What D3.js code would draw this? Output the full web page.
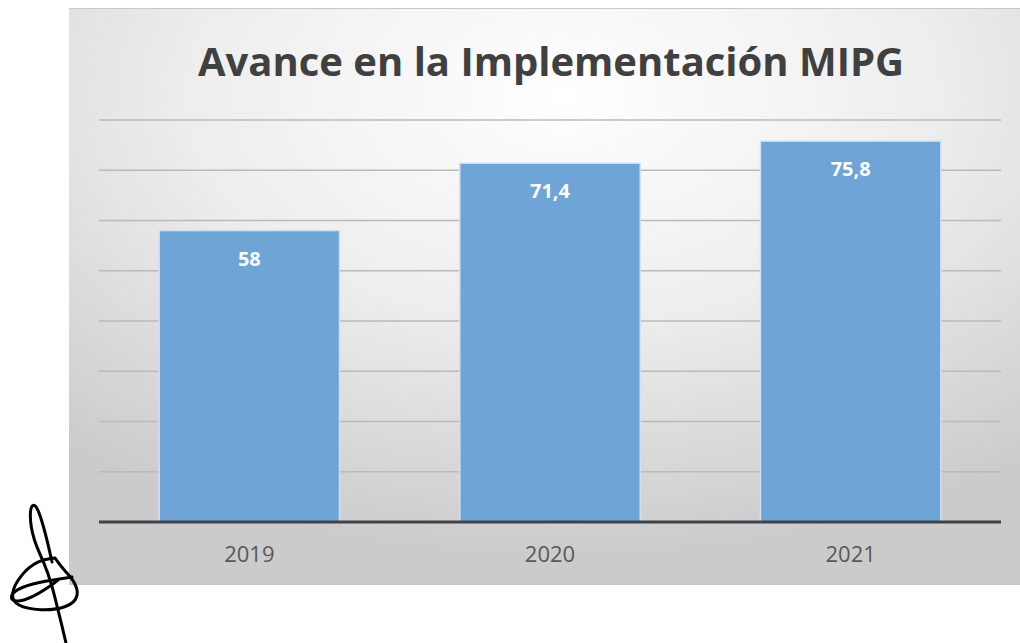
<!DOCTYPE html>
<html>
<head>
<meta charset="utf-8">
<script src="https://cdn.jsdelivr.net/npm/d3@7"></script>
<style>
  body { margin: 0; background: #fff; }
  svg { display: block; }
</style>
</head>
<body>
<div id="chart"></div>
<script>
const years = ["2019", "2020", "2021"];
const values = [58, 71.4, 75.8];
const labels = ["58", "71,4", "75,8"];
const gridTicks = [0, 10, 20, 30, 40, 50, 60, 70, 80];

const width = 1020, height = 643;
const panel = { x: 69, y: 8, w: 951, h: 577 };
const plot = { left: 99, right: 1001, top: 120, bottom: 522 };

const svg = d3.select("#chart").append("svg")
    .attr("width", width)
    .attr("height", height);

// background gradient
const defs = svg.append("defs");
const grad = defs.append("radialGradient")
    .attr("id", "bg")
    .attr("cx", "52%").attr("cy", "15%")
    .attr("r", "80%")
    .attr("fx", "52%").attr("fy", "15%");
grad.append("stop").attr("offset", "0%").attr("stop-color", "#ffffff");
grad.append("stop").attr("offset", "50%").attr("stop-color", "#ededed");
grad.append("stop").attr("offset", "100%").attr("stop-color", "#cbcbcb");

svg.append("rect")
    .attr("x", panel.x).attr("y", panel.y)
    .attr("width", panel.w).attr("height", panel.h)
    .attr("fill", "url(#bg)");
svg.append("line")
    .attr("x1", panel.x).attr("x2", panel.x + panel.w)
    .attr("y1", panel.y + 0.5).attr("y2", panel.y + 0.5)
    .attr("stroke", "#c8c8c8");

const x = d3.scaleBand()
    .domain(years)
    .range([plot.left, plot.right])
    .paddingInner(0.4)
    .paddingOuter(0.2);

const y = d3.scaleLinear()
    .domain([0, 80])
    .range([plot.bottom, plot.top]);

// gridlines
svg.append("g")
    .selectAll("line")
    .data(gridTicks.slice(1))
    .join("line")
    .attr("x1", plot.left).attr("x2", plot.right)
    .attr("y1", d => y(d)).attr("y2", d => y(d))
    .attr("stroke", "#bababa")
    .attr("stroke-width", 1.5);

// bars
svg.append("g")
    .selectAll("rect")
    .data(values)
    .join("rect")
    .attr("x", (d, i) => x(years[i]))
    .attr("y", d => y(d))
    .attr("width", x.bandwidth())
    .attr("height", d => y(0) - y(d))
    .attr("fill", "#6fa4d7")
    .attr("stroke", "#cfe2f3")
    .attr("stroke-width", 1.5);

// baseline
svg.append("line")
    .attr("x1", plot.left).attr("x2", plot.right)
    .attr("y1", y(0)).attr("y2", y(0))
    .attr("stroke", "#3f4247")
    .attr("stroke-width", 3);

// value labels
svg.append("g")
    .selectAll("text")
    .data(values)
    .join("text")
    .attr("x", (d, i) => x(years[i]) + x.bandwidth() / 2)
    .attr("y", d => y(d) + 35)
    .attr("text-anchor", "middle")
    .attr("fill", "#ffffff")
    .style("font-family", "'Open Sans', 'DejaVu Sans', sans-serif")
    .style("font-weight", "bold")
    .style("font-size", "20px")
    .text((d, i) => labels[i]);

// x axis labels
svg.append("g")
    .selectAll("text")
    .data(years)
    .join("text")
    .attr("x", d => x(d) + x.bandwidth() / 2)
    .attr("y", 562)
    .attr("text-anchor", "middle")
    .attr("fill", "#595959")
    .style("font-family", "'Open Sans', 'DejaVu Sans', sans-serif")
    .style("font-size", "22px")
    .text(d => d);

// title
svg.append("text")
    .attr("x", 551)
    .attr("y", 76)
    .attr("text-anchor", "middle")
    .attr("fill", "#404040")
    .style("font-family", "'Open Sans', 'DejaVu Sans', sans-serif")
    .style("font-weight", "bold")
    .style("font-size", "40px")
    .text("Avance en la Implementación MIPG");

// handwritten signature scribble
const sig = svg.append("g")
    .attr("fill", "none")
    .attr("stroke", "#000")
    .attr("stroke-width", 3)
    .attr("stroke-linecap", "round");
const pen = d3.line().curve(d3.curveBasis);
sig.append("path").attr("d", pen([
    [52, 562], [46, 535], [38, 508], [33, 503], [29, 512], [33, 540], [44, 562],
    [52, 585], [58, 610], [63, 630], [66, 643]
]));
sig.append("path").attr("d", pen([
    [55, 558], [38, 560], [20, 575], [10, 595], [16, 606], [40, 611], [68, 608],
    [80, 596], [74, 580], [62, 568], [55, 558]
]));
sig.append("path").attr("d", pen([
    [72, 577], [45, 581], [20, 587], [9, 596], [14, 603], [32, 598], [52, 585], [58, 580]
]));
</script>
</body>
</html>
